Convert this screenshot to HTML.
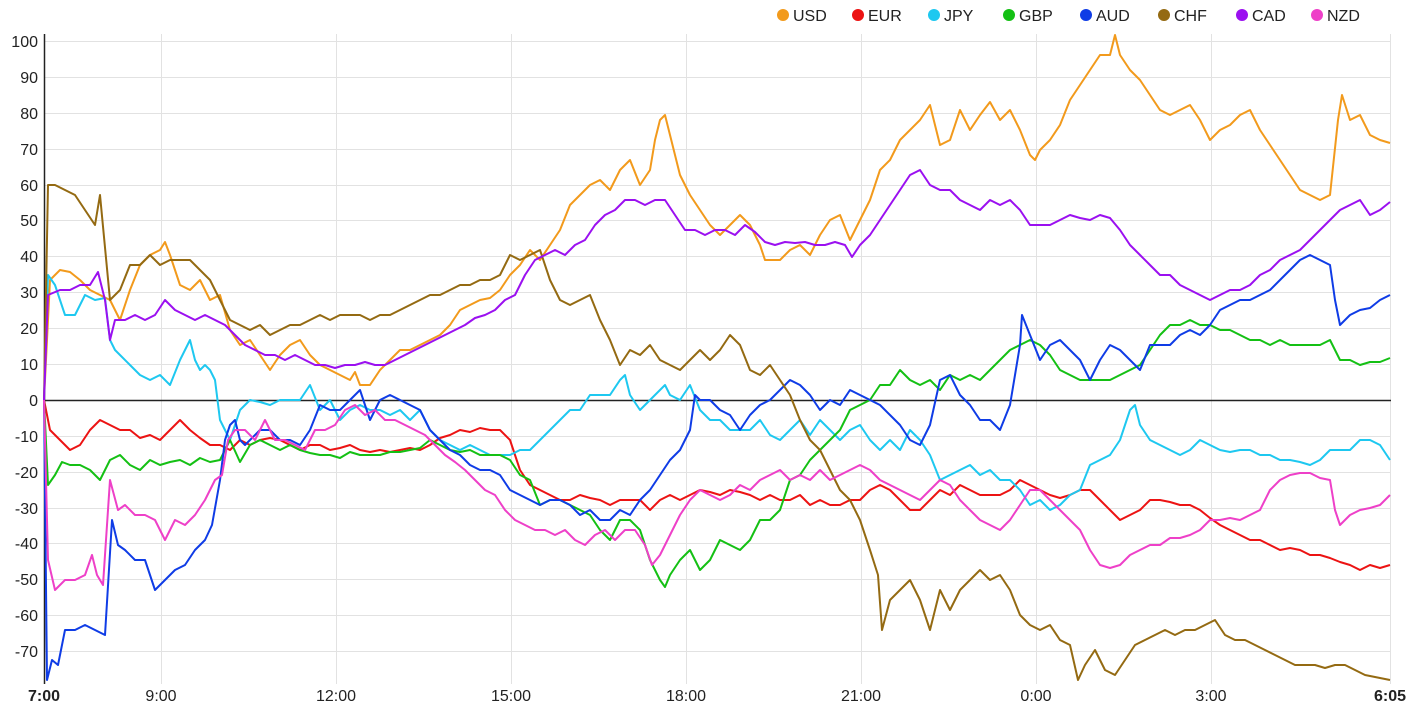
<!DOCTYPE html>
<html><head><meta charset="utf-8"><style>
html,body{margin:0;padding:0;background:#fff;}
svg{display:block;font-family:"Liberation Sans",Arial,sans-serif;}
</style></head><body>
<svg width="1412" height="712" viewBox="0 0 1412 712" xmlns="http://www.w3.org/2000/svg">
<g stroke="#e2e2e2" stroke-width="1">
<line x1="44" y1="41.5" x2="1391" y2="41.5"/><line x1="44" y1="77.5" x2="1391" y2="77.5"/><line x1="44" y1="113.5" x2="1391" y2="113.5"/><line x1="44" y1="149.5" x2="1391" y2="149.5"/><line x1="44" y1="185.5" x2="1391" y2="185.5"/><line x1="44" y1="220.5" x2="1391" y2="220.5"/><line x1="44" y1="256.5" x2="1391" y2="256.5"/><line x1="44" y1="292.5" x2="1391" y2="292.5"/><line x1="44" y1="328.5" x2="1391" y2="328.5"/><line x1="44" y1="364.5" x2="1391" y2="364.5"/><line x1="44" y1="436.5" x2="1391" y2="436.5"/><line x1="44" y1="472.5" x2="1391" y2="472.5"/><line x1="44" y1="508.5" x2="1391" y2="508.5"/><line x1="44" y1="543.5" x2="1391" y2="543.5"/><line x1="44" y1="579.5" x2="1391" y2="579.5"/><line x1="44" y1="615.5" x2="1391" y2="615.5"/><line x1="44" y1="651.5" x2="1391" y2="651.5"/>
<line x1="161.5" y1="34" x2="161.5" y2="684"/><line x1="336.5" y1="34" x2="336.5" y2="684"/><line x1="511.5" y1="34" x2="511.5" y2="684"/><line x1="686.5" y1="34" x2="686.5" y2="684"/><line x1="861.5" y1="34" x2="861.5" y2="684"/><line x1="1036.5" y1="34" x2="1036.5" y2="684"/><line x1="1211.5" y1="34" x2="1211.5" y2="684"/><line x1="1390.5" y1="34" x2="1390.5" y2="684"/>
</g>
<line x1="44" y1="400.5" x2="1391" y2="400.5" stroke="#222" stroke-width="1.5"/>
<line x1="44.5" y1="34" x2="44.5" y2="684" stroke="#222" stroke-width="1.5"/>
<g font-size="16" fill="#222" text-anchor="end">
<text x="38" y="47">100</text><text x="38" y="83">90</text><text x="38" y="119">80</text><text x="38" y="155">70</text><text x="38" y="191">60</text><text x="38" y="226">50</text><text x="38" y="262">40</text><text x="38" y="298">30</text><text x="38" y="334">20</text><text x="38" y="370">10</text><text x="38" y="406">0</text><text x="38" y="442">-10</text><text x="38" y="478">-20</text><text x="38" y="514">-30</text><text x="38" y="549">-40</text><text x="38" y="585">-50</text><text x="38" y="621">-60</text><text x="38" y="657">-70</text>
</g>
<g font-size="16" fill="#222" text-anchor="middle">
<text x="44" y="701" font-weight="bold">7:00</text><text x="161" y="701">9:00</text><text x="336" y="701">12:00</text><text x="511" y="701">15:00</text><text x="686" y="701">18:00</text><text x="861" y="701">21:00</text><text x="1036" y="701">0:00</text><text x="1211" y="701">3:00</text><text x="1390" y="701" font-weight="bold">6:05</text>
</g>
<g fill="none" stroke-width="2" stroke-linejoin="round">
<polyline stroke="#f29a1c" points="44,400 50,280 60,270 70,272 80,280 90,290 100,295 110,300 120,320 130,290 140,265 150,255 160,250 165,242 170,255 180,285 190,290 200,280 210,300 220,295 230,330 240,345 250,340 260,355 270,370 280,355 290,345 300,340 310,355 320,365 330,370 340,375 350,380 355,372 360,385 370,385 380,370 390,360 400,350 410,350 420,345 430,340 440,335 450,325 460,310 470,305 480,300 490,298 500,290 510,275 520,265 530,250 540,260 550,245 560,230 570,205 580,195 590,185 600,180 610,190 620,170 630,160 640,185 650,170 655,140 660,120 665,115 670,135 680,175 690,195 700,210 710,225 720,235 730,225 740,215 750,225 760,245 765,260 780,260 790,250 800,245 810,255 820,235 830,220 840,215 850,240 860,220 870,200 880,170 890,160 900,140 910,130 920,120 930,105 940,145 950,140 960,110 970,130 980,115 990,102 1000,120 1010,110 1020,130 1030,155 1035,160 1040,150 1050,140 1060,125 1070,100 1080,85 1090,70 1100,55 1110,55 1115,35 1120,55 1130,70 1140,80 1150,95 1160,110 1170,115 1180,110 1190,105 1200,120 1210,140 1220,130 1230,125 1240,115 1250,110 1260,130 1270,145 1280,160 1290,175 1300,190 1310,195 1320,200 1330,195 1338,120 1342,95 1350,120 1360,115 1370,135 1380,140 1390,143"/>
<polyline stroke="#ec1313" points="44,400 50,430 60,440 70,450 80,445 90,430 100,420 110,425 120,430 130,430 140,438 150,435 160,440 170,430 180,420 190,430 200,438 210,445 220,445 230,450 240,440 250,445 260,440 270,438 280,440 290,445 300,450 310,445 320,445 330,450 340,448 350,445 360,450 370,452 380,450 390,452 400,450 410,448 420,450 430,445 440,438 450,435 460,430 470,432 480,428 490,430 500,430 510,440 520,470 530,485 540,490 550,495 560,500 570,500 580,495 590,498 600,500 610,505 620,500 630,500 640,500 650,510 660,500 670,495 680,500 690,495 700,490 710,492 720,495 730,490 740,492 750,495 760,500 770,495 780,500 790,500 800,495 810,505 820,500 830,505 840,505 850,500 860,500 870,490 880,485 890,490 900,500 910,510 920,510 930,500 940,490 950,495 960,485 970,490 980,495 990,495 1000,495 1010,490 1020,480 1030,485 1040,490 1050,495 1060,498 1070,495 1080,490 1090,490 1100,500 1110,510 1120,520 1130,515 1140,510 1150,500 1160,500 1170,502 1180,505 1190,505 1200,510 1210,518 1220,525 1230,530 1240,535 1250,540 1260,540 1270,545 1280,550 1290,548 1300,550 1310,555 1320,555 1330,558 1340,562 1350,565 1360,570 1370,565 1380,568 1390,565"/>
<polyline stroke="#1ec8f0" points="44,400 48,275 55,285 65,315 75,315 85,295 95,300 105,298 110,340 115,350 120,355 130,365 140,375 150,380 160,375 170,385 180,360 190,340 195,360 200,370 205,365 210,370 215,380 220,420 230,440 240,410 250,400 260,402 270,405 280,400 290,400 300,400 310,385 320,410 330,400 340,420 350,410 360,405 370,410 380,410 390,415 400,410 410,420 420,410 430,430 440,440 450,445 460,450 470,445 480,450 490,455 500,455 510,455 520,450 530,450 540,440 550,430 560,420 570,410 580,410 590,395 600,395 610,395 620,380 625,375 630,395 640,410 650,400 660,390 665,385 670,395 680,400 690,385 700,410 710,420 720,420 730,430 740,430 750,430 760,420 770,435 780,440 790,430 800,420 810,435 820,420 830,430 840,440 850,430 860,425 870,440 880,450 890,440 900,450 910,430 920,440 930,455 940,480 950,475 960,470 970,465 980,475 990,470 1000,480 1010,480 1020,490 1030,505 1040,500 1050,510 1060,505 1070,495 1080,490 1090,465 1100,460 1110,455 1120,440 1130,410 1135,405 1140,425 1150,440 1160,445 1170,450 1180,455 1190,450 1200,440 1210,445 1220,450 1230,452 1240,450 1250,450 1260,455 1270,455 1280,460 1290,460 1300,462 1310,465 1320,460 1330,450 1340,450 1350,450 1360,440 1370,440 1380,445 1390,460"/>
<polyline stroke="#14c014" points="44,400 48,485 55,475 62,462 70,465 80,465 90,470 100,480 110,460 120,455 130,465 140,470 150,460 160,465 170,462 180,460 190,465 200,458 210,462 220,460 230,440 240,462 250,445 260,440 270,445 280,450 290,445 300,450 310,453 320,455 330,455 340,458 350,452 360,455 370,455 380,455 390,452 400,452 410,450 420,448 430,440 440,445 450,450 460,452 470,450 480,455 490,455 500,455 510,460 520,475 530,480 540,505 550,500 560,500 570,505 580,510 590,515 600,530 610,540 620,520 630,520 640,530 650,560 660,580 665,587 670,575 680,560 690,550 700,570 710,560 720,540 730,545 740,550 750,540 760,520 770,520 780,510 790,480 800,475 810,460 820,450 830,440 840,430 850,410 860,405 870,400 880,385 890,385 900,370 910,380 920,385 930,380 940,390 950,375 960,380 970,375 980,380 990,370 1000,360 1010,350 1020,345 1030,340 1040,345 1050,355 1060,370 1070,375 1080,380 1090,380 1100,380 1110,380 1120,375 1130,370 1140,365 1150,350 1160,335 1170,325 1180,325 1190,320 1200,325 1210,325 1220,330 1230,330 1240,335 1250,340 1260,340 1270,345 1280,340 1290,345 1300,345 1310,345 1320,345 1330,340 1340,360 1350,360 1360,365 1370,362 1380,362 1390,358"/>
<polyline stroke="#0f3ce6" points="44,400 47,680 52,660 58,665 65,630 75,630 85,625 95,630 105,635 112,520 118,545 125,550 135,560 145,560 155,590 165,580 175,570 185,565 195,550 205,540 212,525 220,480 225,440 230,425 235,420 240,440 245,445 250,440 260,430 270,430 280,440 290,440 300,445 310,430 320,405 330,410 340,410 350,400 360,390 370,420 380,400 390,395 400,400 410,405 420,410 430,430 440,440 450,450 460,455 470,465 480,470 490,470 500,475 510,490 520,495 530,500 540,505 550,500 560,500 570,505 580,515 590,510 600,520 610,520 620,510 630,515 640,500 650,490 660,475 670,460 680,450 690,430 695,395 700,400 710,400 720,410 730,415 740,430 750,415 760,405 770,400 780,390 790,380 800,385 810,395 820,410 830,400 840,405 850,390 860,395 870,400 880,405 890,415 900,425 910,440 920,445 930,425 940,380 950,375 960,395 970,405 980,420 990,420 1000,430 1010,405 1020,345 1022,315 1030,335 1040,360 1050,345 1060,340 1070,350 1080,360 1090,380 1100,360 1110,345 1120,350 1130,360 1140,370 1150,345 1160,345 1170,345 1180,335 1190,330 1200,335 1210,325 1220,310 1230,305 1240,300 1250,300 1260,295 1270,290 1280,280 1290,270 1300,260 1310,255 1320,260 1330,265 1335,300 1340,325 1350,315 1360,310 1370,308 1380,300 1390,295"/>
<polyline stroke="#946a12" points="44,400 48,185 55,185 65,190 75,195 85,210 95,225 100,195 110,300 120,290 130,265 140,265 150,255 160,265 170,260 180,260 190,260 200,270 210,280 220,300 230,320 240,325 250,330 260,325 270,335 280,330 290,325 300,325 310,320 320,315 330,320 340,315 350,315 360,315 370,320 380,315 390,315 400,310 410,305 420,300 430,295 440,295 450,290 460,285 470,285 480,280 490,280 500,275 510,255 520,260 530,255 540,250 550,280 560,300 570,305 580,300 590,295 600,320 610,340 620,365 630,350 640,355 650,345 660,360 670,365 680,370 690,360 700,350 710,360 720,350 730,335 740,345 750,370 760,375 770,365 780,380 790,395 800,420 810,440 820,450 830,470 840,490 850,500 860,520 870,550 878,575 882,630 890,600 900,590 910,580 920,600 930,630 940,590 950,610 960,590 970,580 980,570 990,580 1000,575 1010,590 1020,615 1030,625 1040,630 1050,625 1060,640 1070,645 1078,680 1085,665 1095,650 1105,670 1115,675 1125,660 1135,645 1145,640 1155,635 1165,630 1175,635 1185,630 1195,630 1205,625 1215,620 1225,635 1235,640 1245,640 1255,645 1265,650 1275,655 1285,660 1295,665 1305,665 1315,665 1325,668 1335,665 1345,665 1355,670 1365,675 1375,677 1390,680"/>
<polyline stroke="#9b10f0" points="44,400 48,295 60,290 70,290 80,285 90,285 98,272 105,300 110,340 115,320 125,320 135,315 145,320 155,315 165,300 175,310 185,315 195,320 205,315 215,320 225,325 235,335 245,345 255,350 265,355 275,355 285,360 295,355 305,360 315,365 325,365 335,368 345,365 355,365 365,362 375,365 385,365 395,360 405,355 415,350 425,345 435,340 445,335 455,330 465,325 475,318 485,315 495,310 505,300 515,295 525,275 535,260 545,255 555,250 565,255 575,245 585,240 595,225 605,215 615,210 625,200 635,200 645,205 655,200 665,200 675,215 685,230 695,230 705,235 715,230 725,230 735,235 745,225 755,232 765,242 775,245 785,242 795,243 805,242 815,245 825,245 835,242 845,245 852,257 860,245 870,235 880,220 890,205 900,190 910,175 920,170 930,185 940,190 950,190 960,200 970,205 980,210 990,200 1000,205 1010,200 1020,210 1030,225 1040,225 1050,225 1060,220 1070,215 1080,218 1090,220 1100,215 1110,218 1120,230 1130,245 1140,255 1150,265 1160,275 1170,275 1180,285 1190,290 1200,295 1210,300 1220,295 1230,290 1240,290 1250,285 1260,275 1270,270 1280,260 1290,255 1300,250 1310,240 1320,230 1330,220 1340,210 1350,205 1360,200 1370,215 1380,210 1390,202"/>
<polyline stroke="#ee40c8" points="44,400 48,560 55,590 65,580 75,580 85,575 92,555 97,575 103,585 110,480 118,510 125,505 135,515 145,515 155,520 165,540 175,520 185,525 195,515 205,500 215,480 222,475 228,440 235,430 245,430 255,440 265,420 275,440 285,440 295,445 305,450 315,430 325,430 335,425 345,410 355,405 365,415 375,410 385,420 395,420 405,425 415,430 425,435 435,445 445,455 455,462 465,470 475,480 485,490 495,495 505,510 515,520 525,525 535,530 545,530 555,535 565,530 575,540 585,545 595,535 605,530 615,540 625,530 635,530 645,545 652,565 660,555 670,535 680,515 690,500 700,490 710,495 720,500 730,495 740,485 750,490 760,480 770,475 780,470 790,480 800,475 810,480 820,470 830,480 840,475 850,470 860,465 870,470 880,480 890,485 900,490 910,495 920,500 930,490 940,480 950,485 960,500 970,510 980,520 990,525 1000,530 1010,520 1020,505 1030,490 1040,490 1050,500 1060,510 1070,520 1080,530 1090,550 1100,565 1110,568 1120,565 1130,555 1140,550 1150,545 1160,545 1170,538 1180,538 1190,535 1200,530 1210,520 1220,520 1230,518 1240,520 1250,515 1260,510 1270,490 1280,480 1290,475 1300,473 1310,473 1320,478 1330,480 1335,510 1340,525 1350,515 1360,510 1370,508 1380,505 1390,495"/>
</g>
<g font-size="16" fill="#222">
<circle cx="783" cy="15" r="6" fill="#f29a1c"/><text x="793" y="21">USD</text>
<circle cx="858" cy="15" r="6" fill="#ec1313"/><text x="868" y="21">EUR</text>
<circle cx="934" cy="15" r="6" fill="#1ec8f0"/><text x="944" y="21">JPY</text>
<circle cx="1009" cy="15" r="6" fill="#14c014"/><text x="1019" y="21">GBP</text>
<circle cx="1086" cy="15" r="6" fill="#0f3ce6"/><text x="1096" y="21">AUD</text>
<circle cx="1164" cy="15" r="6" fill="#946a12"/><text x="1174" y="21">CHF</text>
<circle cx="1242" cy="15" r="6" fill="#9b10f0"/><text x="1252" y="21">CAD</text>
<circle cx="1317" cy="15" r="6" fill="#ee40c8"/><text x="1327" y="21">NZD</text>
</g>
</svg>
</body></html>
